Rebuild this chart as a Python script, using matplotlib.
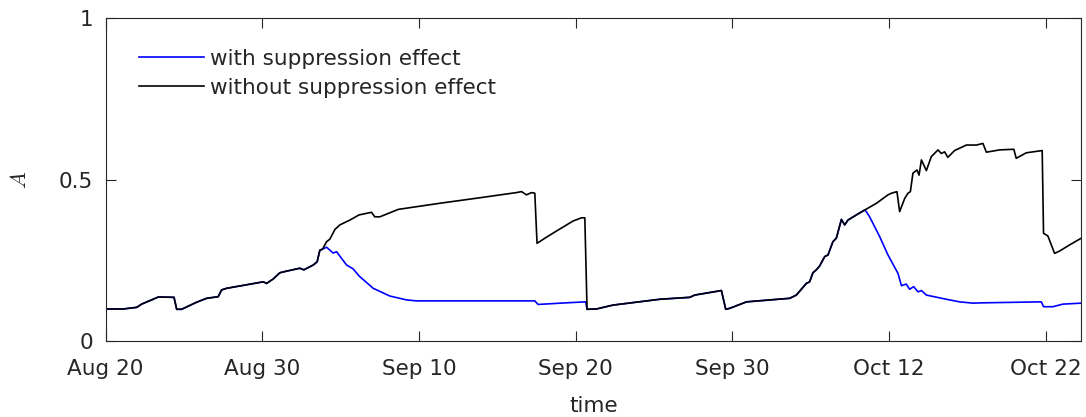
import matplotlib
matplotlib.use("Agg")
import matplotlib.pyplot as plt
import numpy as np

# ---- data (days since Aug 20) ----
tick_days = [0, 10.5, 21, 31.5, 42, 52.5, 63]
tick_labels = ["Aug 20", "Aug 30", "Sep 10", "Sep 20", "Sep 30", "Oct 12", "Oct 22"]
x_max = 65.35

days_without = [0.00, 1.19, 2.09, 2.42, 2.98, 3.54, 4.59, 4.77, 5.10, 6.11, 6.78, 7.55, 7.78, 8.12,
                9.23, 10.57, 10.79, 11.24, 11.68, 12.13, 13.02, 13.29, 13.92, 14.18, 14.36, 14.54,
                14.81, 15.03, 15.37, 15.70, 16.37, 16.99, 17.82, 18.04, 18.38, 19.61, 22.40, 25.08,
                27.53, 27.87, 28.20, 28.54, 28.76, 28.91, 29.54, 30.21, 31.32, 31.89, 32.11, 32.26,
                32.89, 34.00, 37.13, 39.14, 39.47, 41.26, 41.55, 41.82, 42.94, 45.84, 46.28, 46.95,
                47.17, 47.39, 47.62, 47.84, 48.18, 48.40, 48.73, 48.96, 49.30, 49.52, 49.74, 50.41,
                50.86, 51.65, 52.42, 52.65, 53.02, 53.20, 53.54, 53.76, 53.92, 54.09, 54.36, 54.50,
                54.66, 54.99, 55.32, 55.77, 55.99, 56.21, 56.43, 56.88, 57.67, 58.34, 58.78, 59.01,
                59.90, 60.85, 61.01, 61.68, 62.75, 62.84, 63.13, 63.58, 63.91, 64.58, 65.37]
a_without = [0.100, 0.100, 0.105, 0.115, 0.126, 0.137, 0.136, 0.099, 0.099, 0.121, 0.133, 0.138, 0.159, 0.164,
             0.173, 0.184, 0.179, 0.193, 0.212, 0.217, 0.226, 0.221, 0.236, 0.246, 0.282, 0.285,
             0.308, 0.316, 0.346, 0.360, 0.375, 0.391, 0.399, 0.385, 0.385, 0.408, 0.427, 0.444,
             0.460, 0.463, 0.453, 0.460, 0.458, 0.303, 0.322, 0.341, 0.372, 0.382, 0.382, 0.099,
             0.100, 0.112, 0.130, 0.136, 0.143, 0.157, 0.099, 0.102, 0.122, 0.133, 0.143, 0.179,
             0.184, 0.212, 0.221, 0.233, 0.262, 0.267, 0.308, 0.319, 0.377, 0.360, 0.375, 0.394,
             0.406, 0.427, 0.453, 0.458, 0.463, 0.401, 0.442, 0.458, 0.463, 0.520, 0.530, 0.514,
             0.561, 0.528, 0.571, 0.592, 0.581, 0.586, 0.569, 0.590, 0.607, 0.607, 0.612, 0.585,
             0.592, 0.594, 0.566, 0.583, 0.590, 0.334, 0.326, 0.272, 0.279, 0.298, 0.319]

# "with suppression" differs from "without" only in these two stretches
days_with_1 = [14.81, 15.25, 15.48, 16.15, 16.59, 16.99, 17.93, 19.05, 20.17, 20.84, 28.76, 28.98, 30.88, 32.17]
a_with_1 = [0.291, 0.273, 0.277, 0.236, 0.224, 0.202, 0.164, 0.140, 0.128, 0.125, 0.125, 0.114, 0.119, 0.122]
days_with_2 = [50.97, 51.19, 51.86, 52.42, 53.09, 53.32, 53.65, 53.87, 54.14, 54.43, 54.66, 54.99, 56.33,
               57.22, 58.11, 58.78, 62.69, 62.84, 63.47, 64.14, 65.37]
a_with_2 = [0.401, 0.385, 0.324, 0.267, 0.210, 0.172, 0.177, 0.161, 0.169, 0.153, 0.157, 0.143, 0.130,
            0.122, 0.118, 0.119, 0.122, 0.107, 0.107, 0.115, 0.118]

t_wo = np.array(days_without)
a_wo = np.array(a_without)
m1 = t_wo <= 14.54
m2 = (t_wo >= 32.26) & (t_wo <= 50.86)
t_w = np.concatenate([t_wo[m1], days_with_1, t_wo[m2], days_with_2])
a_w = np.concatenate([a_wo[m1], a_with_1, a_wo[m2], a_with_2])

# ---- figure ----
plt.rcParams['font.family'] = ['DejaVu Sans']
plt.rcParams['mathtext.fontset'] = 'cm'
axc = '#262626'
fs = 15.5

fig = plt.figure(figsize=(10.86, 4.17), dpi=100)
ax = fig.add_axes([105.5 / 1086, 1 - 341.3 / 417, (1081 - 105.5) / 1086, (341.3 - 18) / 417])

ax.plot(t_w, a_w, color=(0, 0, 1), lw=1.2, label="with suppression effect")
ax.plot(t_wo, a_wo, color='black', lw=1.2, label="without suppression effect")

ax.set_xlim(0, x_max)
ax.set_ylim(0, 1)
ax.set_xticks(tick_days)
ax.set_xticklabels(tick_labels)
ax.set_yticks([0, 0.5, 1])
ax.set_yticklabels(["0", "0.5", "1"])

for s in ax.spines.values():
    s.set_color(axc)
    s.set_linewidth(0.8)
ax.tick_params(axis='both', direction='in', length=7, width=0.8, color=axc,
               labelcolor=axc, labelsize=fs, top=True, right=True)
ax.tick_params(axis='x', pad=13)
ax.tick_params(axis='y', pad=9)

ax.set_xlabel("time", fontsize=fs, color=axc)
ax.xaxis.label.set_va('center')
ax.xaxis.set_label_coords(0.5, -(406.5 - 341.3) / 323.3)
ax.set_ylabel("$A$", fontsize=16, color=axc)
ax.yaxis.label.set_va('center')
ax.yaxis.set_label_coords(-(105.5 - 20) / 975.5, 0.5)

leg = ax.legend(loc='upper left', bbox_to_anchor=((139 - 105.5) / 975.5, 1 - (49 - 18) / 323.3),
                frameon=False, fontsize=fs, handlelength=3.0, handletextpad=0.3,
                labelspacing=0.40, borderpad=0, borderaxespad=0)
for txt in leg.get_texts():
    txt.set_color(axc)

fig.savefig("out.png", dpi=100)
